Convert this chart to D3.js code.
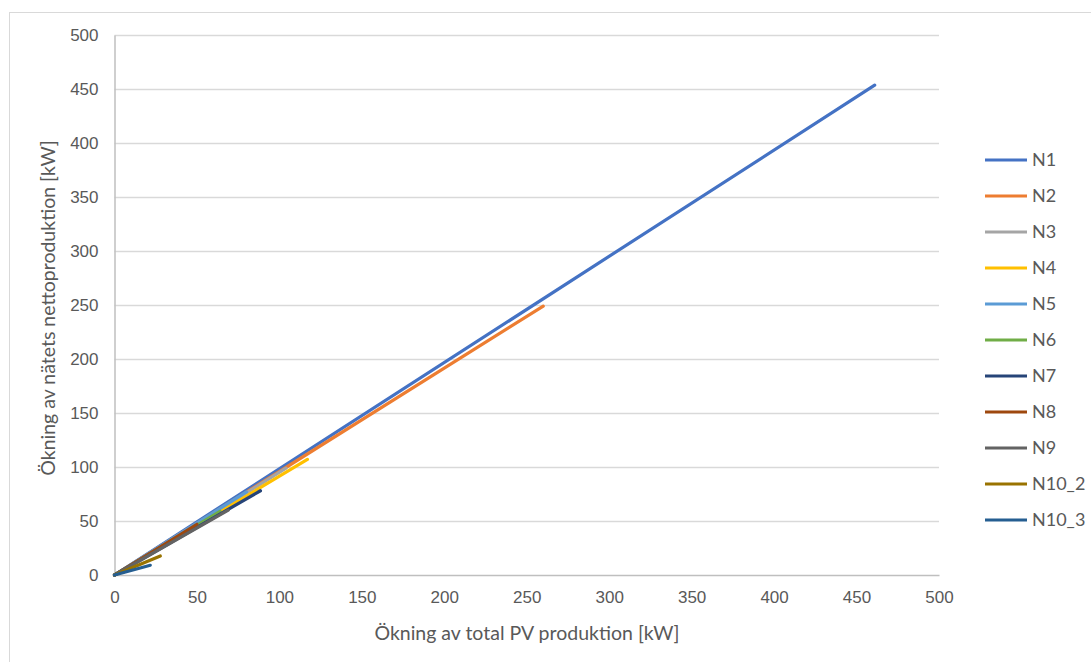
<!DOCTYPE html>
<html>
<head>
<meta charset="utf-8">
<script src="https://cdn.jsdelivr.net/npm/d3@7"></script>
<style>
  html, body { margin: 0; padding: 0; background: #fff; }
  svg { display: block; font-family: Lato, "Open Sans", "Liberation Sans", sans-serif; }
</style>
</head>
<body>
<svg id="chart" width="1091" height="662"></svg>
<script>
// Series names and colours
const seriesNames = ["N1", "N2", "N3", "N4", "N5", "N6", "N7", "N8", "N9", "N10_2", "N10_3"];
const seriesColors = ["#4472C4", "#ED7D31", "#A5A5A5", "#FFC000", "#5B9BD5", "#70AD47",
                      "#264478", "#9E480E", "#636363", "#997300", "#255E91"];

// Each series: increase in total PV production (x, kW) vs increase in net grid production (y, kW)
const xN1 = [0, 461];     const yN1 = [0, 453.5];
const xN2 = [0, 260];     const yN2 = [0, 249];
const xN3 = [0, 104];     const yN3 = [0, 99];
const xN4 = [0, 117];     const yN4 = [0, 107];
const xN5 = [0, 80];      const yN5 = [0, 77];
const xN6 = [0, 64];      const yN6 = [0, 59];
const xN7 = [0, 88.5];    const yN7 = [0, 78];
const xN8 = [0, 50];      const yN8 = [0, 47];
const xN9 = [0, 69];      const yN9 = [0, 60];
const xN10_2 = [0, 27.8]; const yN10_2 = [0, 17.6];
const xN10_3 = [0, 21.7]; const yN10_3 = [0, 9];

const xs = [xN1, xN2, xN3, xN4, xN5, xN6, xN7, xN8, xN9, xN10_2, xN10_3];
const ys = [yN1, yN2, yN3, yN4, yN5, yN6, yN7, yN8, yN9, yN10_2, yN10_3];

const xTicks = [0, 50, 100, 150, 200, 250, 300, 350, 400, 450, 500];
const yTicks = [0, 50, 100, 150, 200, 250, 300, 350, 400, 450, 500];

const xTitle = "Ökning av total PV produktion [kW]";
const yTitle = "Ökning av nätets nettoproduktion [kW]";

const svg = d3.select("#chart");
const W = 1091, H = 662;
const plot = { left: 114.5, right: 939, top: 35, bottom: 575 };

// Outer chart border
svg.append("rect")
  .attr("x", 9.5).attr("y", 12.5)
  .attr("width", W + 20).attr("height", H + 20)
  .attr("fill", "#fff").attr("stroke", "#d9d9d9").attr("stroke-width", 1);

const x = d3.scaleLinear().domain([0, 500]).range([plot.left, plot.right]);
const y = d3.scaleLinear().domain([0, 500]).range([plot.bottom, plot.top]);

// Horizontal gridlines
svg.append("g")
  .selectAll("line")
  .data(yTicks.filter(d => d > 0))
  .join("line")
  .attr("x1", plot.left).attr("x2", plot.right)
  .attr("y1", d => Math.round(y(d)) + 0.5).attr("y2", d => Math.round(y(d)) + 0.5)
  .attr("stroke", "#d9d9d9").attr("stroke-width", 1.5);

// Axes
const xAxis = svg.append("g")
  .attr("transform", `translate(0,${plot.bottom})`)
  .call(d3.axisBottom(x).tickValues(xTicks).tickSize(0).tickPadding(16).tickFormat(d3.format("d")));
xAxis.select(".domain").attr("stroke", "#bfbfbf").attr("stroke-width", 1.5);
xAxis.selectAll("text").attr("fill", "#595959").attr("font-size", "17px");

const yAxis = svg.append("g")
  .attr("transform", `translate(${plot.left},0)`)
  .call(d3.axisLeft(y).tickValues(yTicks).tickSize(0).tickPadding(16).tickFormat(d3.format("d")));
yAxis.select(".domain").attr("stroke", "#bfbfbf").attr("stroke-width", 1.5);
yAxis.selectAll("text").attr("fill", "#595959").attr("font-size", "17px");

// Axis titles
svg.append("text")
  .attr("x", 527).attr("y", 640)
  .attr("text-anchor", "middle")
  .attr("fill", "#595959").attr("font-size", "19.5px")
  .text(xTitle);

svg.append("text")
  .attr("transform", `translate(55,${(plot.top + plot.bottom) / 2 + 3}) rotate(-90)`)
  .attr("text-anchor", "middle")
  .attr("fill", "#595959").attr("font-size", "19.5px")
  .text(yTitle);

// Series lines
const line = d3.line().x(d => x(d[0])).y(d => y(d[1]));
const seriesData = seriesNames.map((name, i) => ({
  name, color: seriesColors[i],
  points: xs[i].map((v, j) => [v, ys[i][j]])
}));

svg.append("g")
  .selectAll("path")
  .data(seriesData)
  .join("path")
  .attr("d", d => line(d.points))
  .attr("fill", "none")
  .attr("stroke", d => d.color)
  .attr("stroke-width", 3.2)
  .attr("stroke-linecap", "round");

// Legend
const legend = svg.append("g");
const legendRow = legend.selectAll("g")
  .data(seriesData)
  .join("g")
  .attr("transform", (d, i) => `translate(985,${160 + i * 36})`);
legendRow.append("line")
  .attr("x1", 0).attr("x2", 42).attr("y1", 0).attr("y2", 0)
  .attr("stroke", d => d.color).attr("stroke-width", 3);
legendRow.append("text")
  .attr("x", 47).attr("y", 0).attr("dy", "0.35em")
  .attr("fill", "#595959").attr("font-size", "18px")
  .text(d => d.name);
</script>
</body>
</html>
